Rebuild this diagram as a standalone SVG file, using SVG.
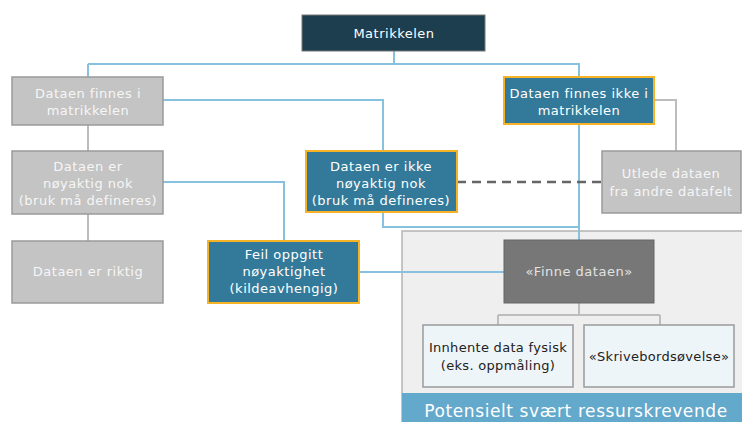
<svg xmlns="http://www.w3.org/2000/svg" width="742" height="422" viewBox="0 0 742 422">
<style>
text{font-family:"DejaVu Sans","Liberation Sans",sans-serif;font-size:13px;letter-spacing:0.5px;text-anchor:middle}
.gray rect{fill:#c4c4c4;stroke:#9a9a9a;stroke-width:1.5}
.gray text{fill:#f6f6f6}
.blue rect{fill:#337a9a;stroke:#f5b325;stroke-width:2}
.blue text{fill:#ffffff}
.dark rect{fill:#1c3e4f;stroke:#777;stroke-width:1}
.dark text{fill:#ffffff}
.mid rect{fill:#777777;stroke:#666;stroke-width:1}
.mid text{fill:#e2e2e2}
.light rect{fill:#eef5f9;stroke:#9a9a9a;stroke-width:1.5}
.light text{fill:#222;letter-spacing:0.3px}
.bl{fill:none;stroke:#86c2de;stroke-width:2}
.gl{fill:none;stroke:#bdbdbd;stroke-width:2}
.dl{fill:none;stroke:#666;stroke-width:2.5;stroke-dasharray:9 6}
</style>
<rect id="panel" x="402" y="231" width="341" height="192" fill="#efefef" stroke="#b4b4b4" stroke-width="1.5"/>
<g id="connectors">
<path class="bl" d="M394 51V64M88 64H579V77M88 64V77"/>
<path class="bl" d="M163 100H383V151"/>
<path class="bl" d="M579 125V240"/>
<path class="bl" d="M383 212V227H579"/>
<path class="bl" d="M163 182H284V241"/>
<path class="bl" d="M359 272H504"/>
<path class="gl" d="M654 100H676V151"/>
<path class="gl" d="M88 125V151M88 214V241"/>
<path class="gl" d="M579 303V315M498 315H660M498 315V325M660 315V325"/>
<path class="dl" d="M457 182H602"/>
</g>
<g id="matrikkelen" class="dark"><rect x="302" y="15" width="183" height="36"/><text x="394" y="38">Matrikkelen</text></g>
<g id="finnes" class="gray"><rect x="12" y="77" width="151" height="48"/><text x="88" y="98">Dataen finnes i</text><text x="88" y="115">matrikkelen</text></g>
<g id="finnes-ikke" class="blue"><rect x="504" y="77" width="150" height="47"/><text x="579" y="98">Dataen finnes ikke i</text><text x="579" y="115">matrikkelen</text></g>
<g id="noyaktig" class="gray"><rect x="12" y="151" width="151" height="63"/><text x="88" y="171">Dataen er</text><text x="88" y="188">nøyaktig nok</text><text x="88" y="205">(bruk må defineres)</text></g>
<g id="ikke-noyaktig" class="blue"><rect x="306" y="151" width="151" height="61"/><text x="381" y="171">Dataen er ikke</text><text x="381" y="188">nøyaktig nok</text><text x="381" y="205">(bruk må defineres)</text></g>
<g id="utlede" class="gray"><rect x="602" y="151" width="139" height="62"/><text x="671" y="178">Utlede dataen</text><text x="671" y="196">fra andre datafelt</text></g>
<g id="riktig" class="gray"><rect x="12" y="241" width="151" height="62"/><text x="88" y="276">Dataen er riktig</text></g>
<g id="feil" class="blue"><rect x="208" y="241" width="151" height="62"/><text x="284" y="259">Feil oppgitt</text><text x="284" y="276">nøyaktighet</text><text x="284" y="293">(kildeavhengig)</text></g>
<g id="finne" class="mid"><rect x="504" y="240" width="150" height="63"/><text x="579" y="276">«Finne dataen»</text></g>
<g id="innhente" class="light"><rect x="423" y="325" width="150" height="62"/><text x="498" y="352">Innhente data fysisk</text><text x="498" y="370">(eks. oppmåling)</text></g>
<g id="skrivebord" class="light"><rect x="584" y="325" width="150" height="62"/><text x="659" y="361">«Skrivebordsøvelse»</text></g>
<g id="banner"><rect x="402" y="393" width="341" height="30" fill="#63a9cc"/><text x="576" y="417" style="font-size:17px;fill:#fff;letter-spacing:0.6px">Potensielt svært ressurskrevende</text></g>
</svg>
